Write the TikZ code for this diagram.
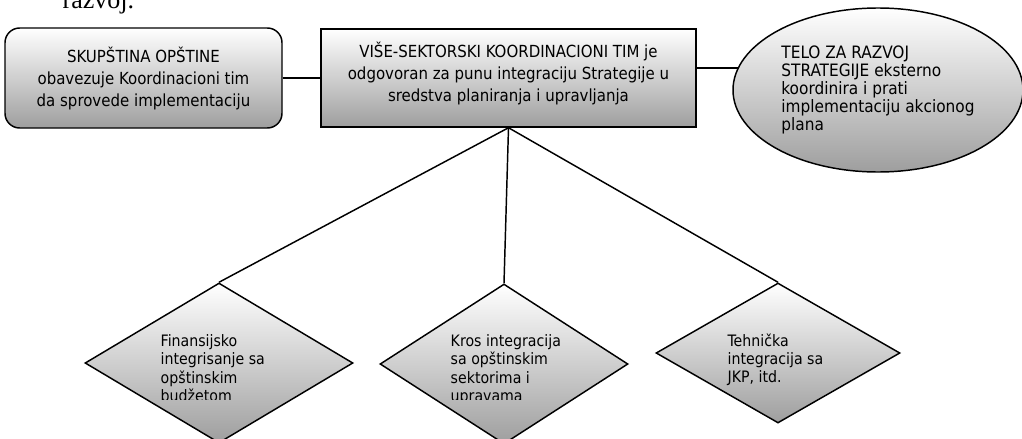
\documentclass[tikz,border=0pt]{standalone}
\usepackage{fontspec}
\setmainfont{DejaVu Sans Condensed}
\newfontfamily\docserif{Liberation Serif}
\usetikzlibrary{shapes.geometric}

\begin{document}
\begin{tikzpicture}[x=0.75pt,y=-0.75pt,line width=1.1pt,draw=black!100]

	\def \px{0.75pt}
	\tikzstyle{shade-node}=[draw,top color=white,bottom color=black!38]
	\tikzstyle{t-box}=[shade-node,font=\fontsize{12.5}{16.5}\selectfont,align=center,inner sep=0pt]
	\tikzstyle{d-node}=[shade-node,diamond,inner sep=0pt]
	\tikzstyle{annot}=[font=\fontsize{11.8}{13.7}\selectfont,align=left,anchor=north west,inner sep=0pt]

	\useasboundingbox (0,0) rectangle (1022,439);

	% page text above the chart
	\node[font=\docserif\fontsize{19.5}{23}\selectfont,anchor=base west,inner sep=0pt] (razvoj) at (62,8) {razvoj.};

	% top row
	\node[t-box,rounded corners=11pt,minimum width=277*\px,minimum height=100*\px] (skupstina) at (143.5,78) {SKUPŠTINA OPŠTINE\\obavezuje Koordinacioni tim\\da sprovede implementaciju};
	\node[t-box,minimum width=375*\px,minimum height=98*\px] (tim) at (508.5,78) {VIŠE-SEKTORSKI KOORDINACIONI TIM je\\odgovoran za punu integraciju Strategije u\\sredstva planiranja i upravljanja\rule[-10pt]{0pt}{0pt}};
	\node[shade-node,ellipse,inner sep=0pt,minimum width=290*\px,minimum height=164*\px,font=\fontsize{12.8}{13.6}\selectfont,align=left] (telo) at (878,90) {TELO ZA RAZVOJ\\STRATEGIJE eksterno\\koordinira i prati\\implementaciju akcionog\\plana};

	% integration diamonds
	\node[d-node,minimum width=268*\px,minimum height=160*\px] (fin) at (219,363) {};
	\node[d-node,minimum width=248*\px,minimum height=160*\px] (kros) at (504,364) {};
	\node[d-node,minimum width=244*\px,minimum height=140*\px] (teh) at (778,353) {};

	% diamond labels
	\begin{scope}
		\clip (0,0) rectangle (1022,399);
		\node[annot] (finlabel) at (160,334) {Finansijsko\\integrisanje sa\\opštinskim\\budžetom};
		\node[annot] (kroslabel) at (450,334) {Kros integracija\\sa opštinskim\\sektorima i\\upravama};
	\end{scope}
	\node[annot] (tehlabel) at (727,333) {Tehnička\\integracija sa\\JKP, itd.};

	% connectors
	\draw (skupstina.east) -- (tim.west);
	\draw (tim.east |- telo.171) -- (telo.171);
	\draw (tim.south) -- (fin.north);
	\draw (tim.south) -- (kros.north);
	\draw (tim.south) -- (teh.north);
\end{tikzpicture}
\end{document}
